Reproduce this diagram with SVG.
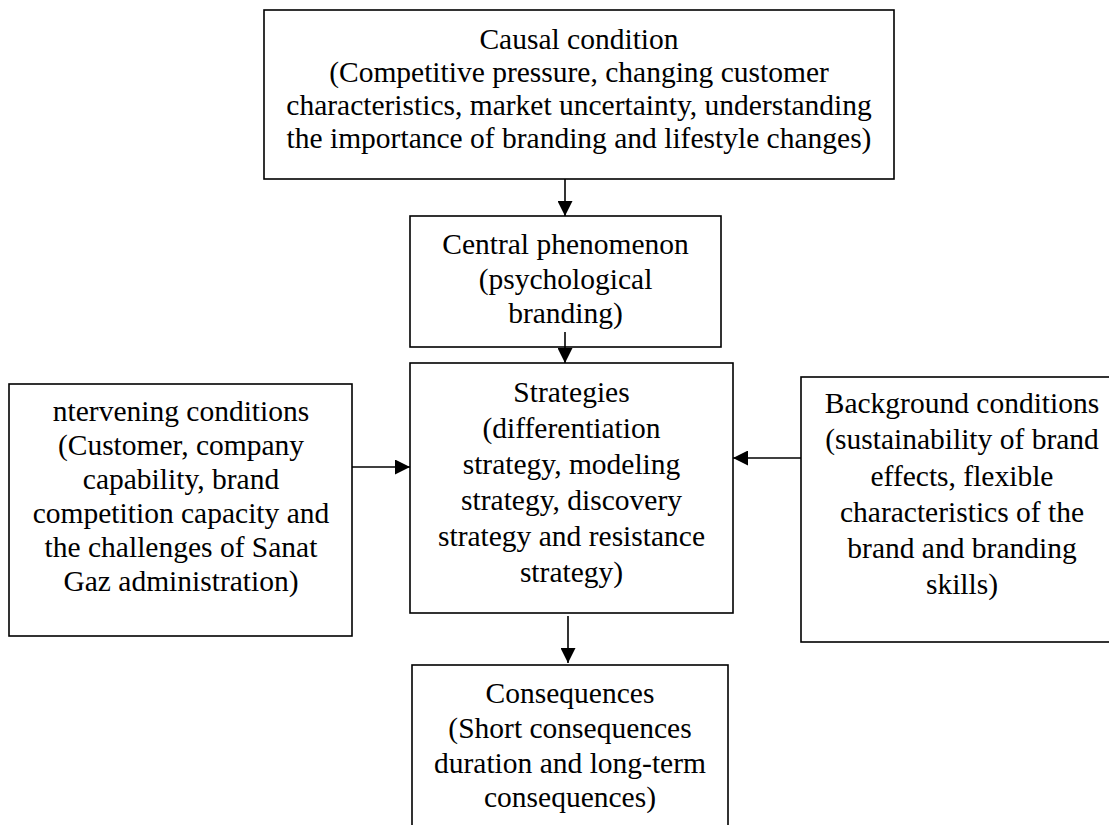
<svg xmlns="http://www.w3.org/2000/svg" width="1109" height="825" viewBox="0 0 1109 825">
<defs>
<style>
.box{fill:#fff;stroke:#000;stroke-width:1.6}
.t{font-family:"Liberation Serif","Times New Roman",serif;font-size:29.5px;fill:#000;text-anchor:middle}
.c{stroke:#000;stroke-width:1.6;fill:none}
</style>
<marker id="ah" markerUnits="userSpaceOnUse" markerWidth="16" markerHeight="15" refX="15" refY="7.5" orient="auto">
<path d="M0,0 L15,7.5 L0,15 Z" fill="#000"/>
</marker>
</defs>
<rect width="1109" height="825" fill="#fff"/>
<g id="causal">
<rect class="box" x="264" y="10" width="630" height="169"/>
<text class="t" x="579" y="49">Causal condition</text>
<text class="t" x="579" y="82">(Competitive pressure, changing customer</text>
<text class="t" x="579" y="114.5">characteristics, market uncertainty, understanding</text>
<text class="t" x="579" y="147.5">the importance of branding and lifestyle changes)</text>
</g>
<g id="central">
<rect class="box" x="410" y="216" width="311" height="131"/>
<text class="t" x="565.5" y="254">Central phenomenon</text>
<text class="t" x="565.5" y="288.5">(psychological</text>
<text class="t" x="565.5" y="323">branding)</text>
</g>
<g id="strategies">
<rect class="box" x="410" y="363" width="323" height="250"/>
<text class="t" x="571.5" y="402">Strategies</text>
<text class="t" x="571.5" y="438">(differentiation</text>
<text class="t" x="571.5" y="474">strategy, modeling</text>
<text class="t" x="571.5" y="510">strategy, discovery</text>
<text class="t" x="571.5" y="546">strategy and resistance</text>
<text class="t" x="571.5" y="582">strategy)</text>
</g>
<g id="intervening">
<rect class="box" x="9" y="384" width="343" height="252"/>
<text class="t" x="181" y="421">ntervening conditions</text>
<text class="t" x="181" y="455">(Customer, company</text>
<text class="t" x="181" y="489">capability, brand</text>
<text class="t" x="181" y="523">competition capacity and</text>
<text class="t" x="181" y="557">the challenges of Sanat</text>
<text class="t" x="181" y="591">Gaz administration)</text>
</g>
<g id="background">
<rect class="box" x="801" y="377" width="322" height="265"/>
<text class="t" x="962" y="413">Background conditions</text>
<text class="t" x="962" y="449">(sustainability of brand</text>
<text class="t" x="962" y="486">effects, flexible</text>
<text class="t" x="962" y="522">characteristics of the</text>
<text class="t" x="962" y="558">brand and branding</text>
<text class="t" x="962" y="594">skills)</text>
</g>
<g id="consequences">
<rect class="box" x="412" y="665" width="316" height="175"/>
<text class="t" x="570" y="703">Consequences</text>
<text class="t" x="570" y="738">(Short consequences</text>
<text class="t" x="570" y="773">duration and long-term</text>
<text class="t" x="570" y="807">consequences)</text>
</g>
<g id="connectors">
<line class="c" x1="565" y1="179" x2="565" y2="216" marker-end="url(#ah)"/>
<line class="c" x1="565" y1="332" x2="565" y2="363" marker-end="url(#ah)"/>
<line class="c" x1="352" y1="467" x2="410" y2="467" marker-end="url(#ah)"/>
<line class="c" x1="801" y1="458" x2="733" y2="458" marker-end="url(#ah)"/>
<line class="c" x1="568" y1="616" x2="568" y2="663" marker-end="url(#ah)"/>
</g>
</svg>
